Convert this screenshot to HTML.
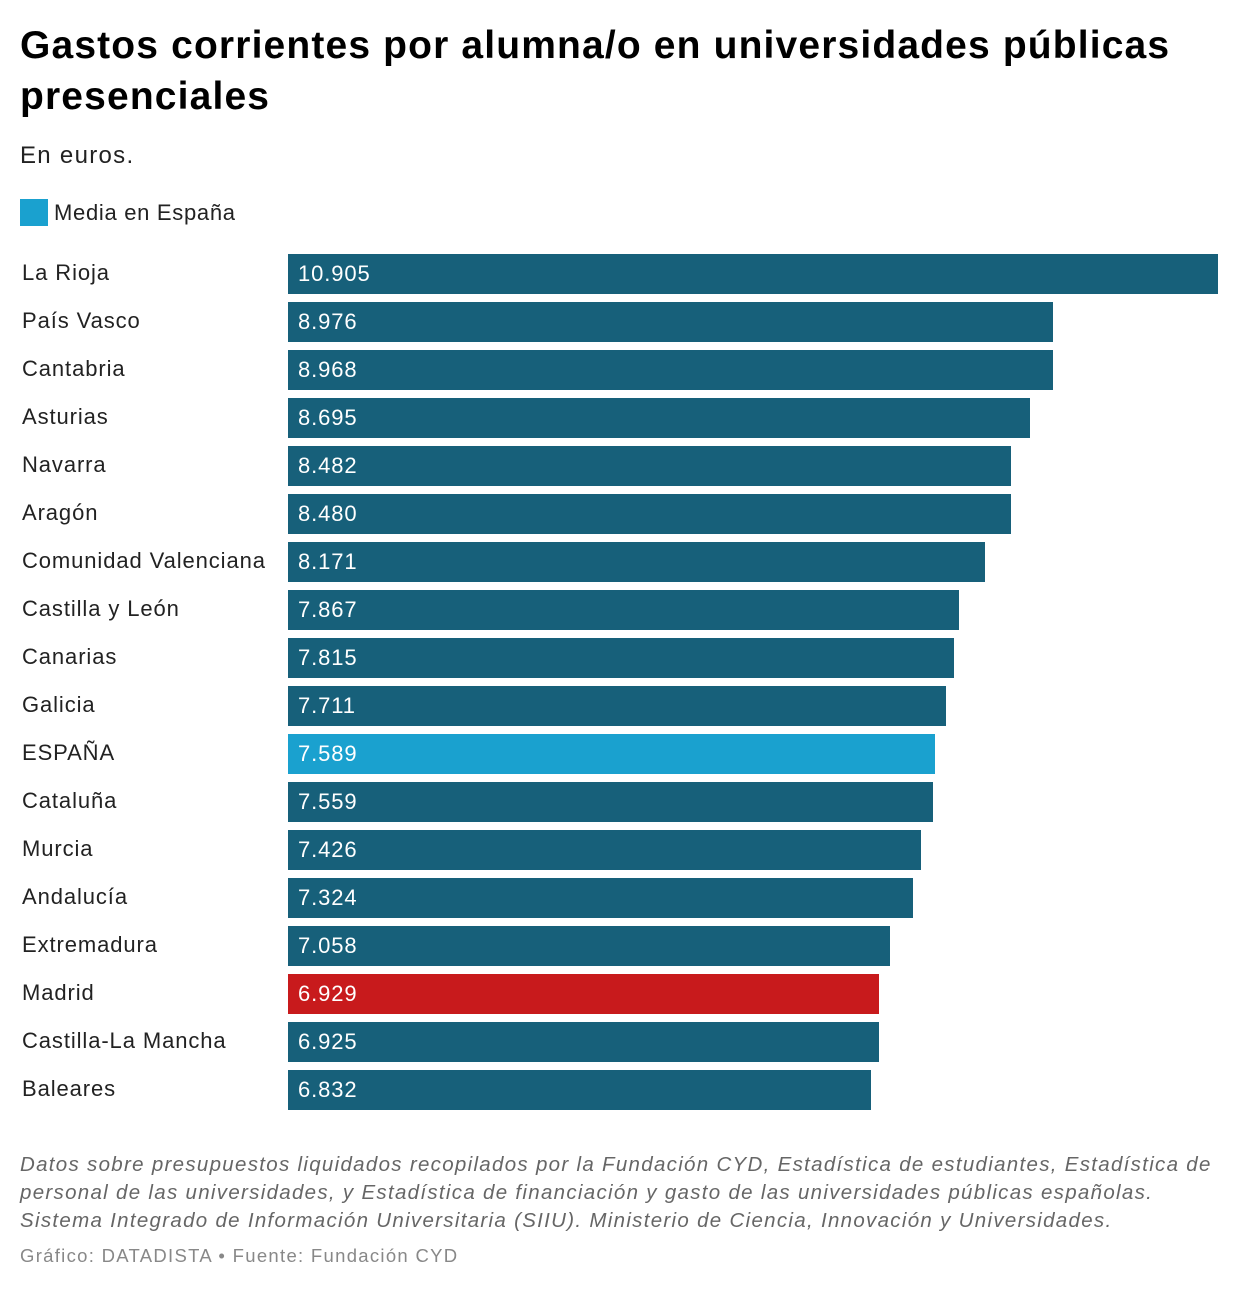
<!DOCTYPE html>
<html><head><meta charset="utf-8">
<style>
body{margin:0;width:1240px;height:1290px;background:#fff;font-family:"Liberation Sans",sans-serif;color:#111;position:relative;overflow:hidden}
.t{position:absolute;left:20px;top:20px;font-size:39px;font-weight:bold;line-height:51px;letter-spacing:1.15px;width:1220px;color:#000}
.s{position:absolute;left:20px;top:142px;font-size:24px;color:#222;letter-spacing:1.3px}
.lg{position:absolute;left:20px;top:199px;font-size:22px;display:flex;align-items:center;color:#222;letter-spacing:0.7px}
.lg i{display:inline-block;width:28px;height:27px;background:#1aa1cf;margin-right:6px}
.lab{position:absolute;left:22px;font-size:22px;color:#222;letter-spacing:0.9px}
.bar{position:absolute;left:288px;height:40px}
.val{position:absolute;left:298px;font-size:22px;color:#fff;letter-spacing:0.9px}
.n{position:absolute;left:20px;top:1151px;font-size:20.5px;font-style:italic;color:#666;line-height:28px;white-space:nowrap;letter-spacing:1.3px}
.f{position:absolute;left:20px;top:1245px;font-size:18.5px;color:#888;letter-spacing:1.3px}
</style></head><body>
<div class="t">Gastos corrientes por alumna/o en universidades públicas presenciales</div>
<div class="s">En euros.</div>
<div class="lg"><i></i>Media en España</div>
<div id="chart"></div>
<div class="n">Datos sobre presupuestos liquidados recopilados por la Fundación CYD, Estadística de estudiantes, Estadística de<br>personal de las universidades, y Estadística de financiación y gasto de las universidades públicas españolas.<br>Sistema Integrado de Información Universitaria (SIIU). Ministerio de Ciencia, Innovación y Universidades.</div>
<div class="f">Gráfico: DATADISTA • Fuente: Fundación CYD</div>
<script>
const categories=["La Rioja","País Vasco","Cantabria","Asturias","Navarra","Aragón","Comunidad Valenciana","Castilla y León","Canarias","Galicia","ESPAÑA","Cataluña","Murcia","Andalucía","Extremadura","Madrid","Castilla-La Mancha","Baleares"];
const values=[10905,8976,8968,8695,8482,8480,8171,7867,7815,7711,7589,7559,7426,7324,7058,6929,6925,6832];
const maxVal=10905;
const chart=document.getElementById('chart');
const xs=v=>v/maxVal*930;
const fmt=v=>{const s=String(v);return s.length>3?s.slice(0,-3)+'.'+s.slice(-3):s;};
categories.forEach((c,i)=>{
  const top=254+i*48;
  const col=c==="ESPAÑA"?"#1aa1cf":(c==="Madrid"?"#c81a1c":"#17607a");
  const l=document.createElement('div');l.className='lab';l.style.top=(top+6)+'px';l.textContent=c;
  
  
  const b=document.createElement('div');b.className='bar';b.style.top=top+'px';b.style.width=xs(values[i])+'px';b.style.background=col;
  
  
  const v=document.createElement('div');v.className='val';v.style.top=(top+7)+'px';v.textContent=fmt(values[i]);
  
  
  chart.appendChild(l);chart.appendChild(b);chart.appendChild(v);
});
</script>
</body></html>
